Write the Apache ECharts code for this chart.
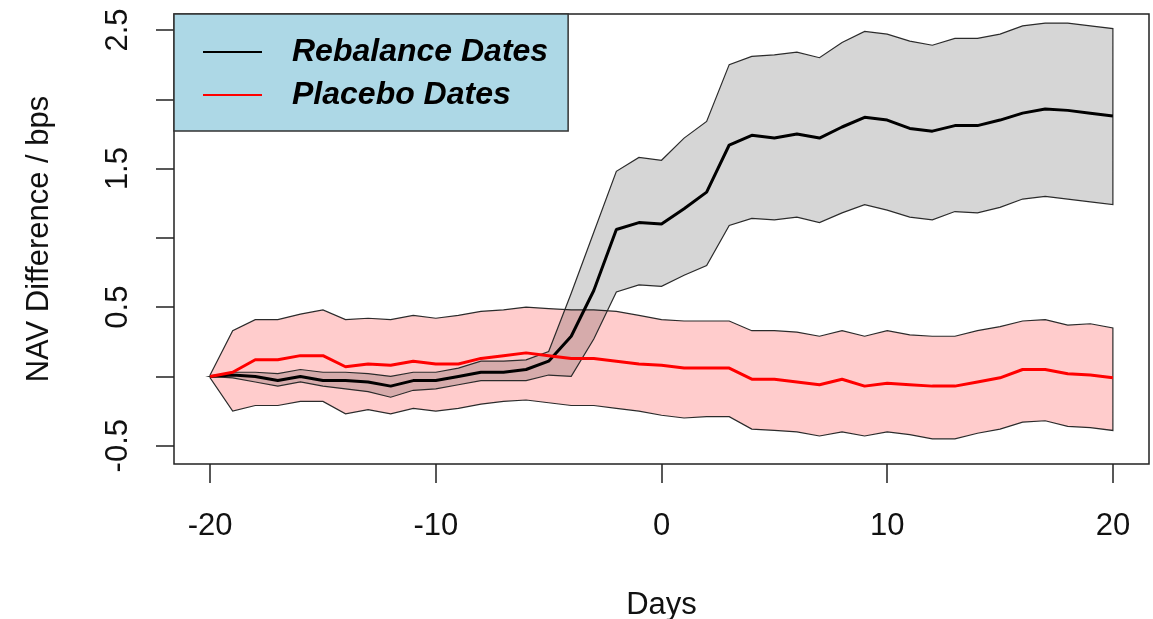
<!DOCTYPE html>
<html>
<head>
<meta charset="utf-8">
<script src="https://cdn.jsdelivr.net/npm/echarts@6/dist/echarts.min.js"></script>
<style>
html,body{margin:0;padding:0;background:#fff;}
#chart{width:1153px;height:619px;}
</style>
</head>
<body>
<div id="chart"></div>
<script>
var days = [-20,-19,-18,-17,-16,-15,-14,-13,-12,-11,-10,-9,-8,-7,-6,-5,-4,-3,-2,-1,0,1,2,3,4,5,6,7,8,9,10,11,12,13,14,15,16,17,18,19,20];

var rebMean = [0,0.01,0.00,-0.03,0.00,-0.03,-0.03,-0.04,-0.07,-0.03,-0.03,0.00,0.03,0.03,0.05,0.11,0.29,0.62,1.06,1.11,1.10,1.21,1.33,1.67,1.74,1.72,1.75,1.72,1.80,1.87,1.85,1.79,1.77,1.81,1.81,1.85,1.90,1.93,1.92,1.90,1.88];
var rebUpper = [0,0.03,0.03,0.02,0.05,0.03,0.03,0.02,0.00,0.03,0.03,0.06,0.11,0.11,0.12,0.18,0.60,1.04,1.48,1.58,1.56,1.72,1.84,2.25,2.31,2.32,2.34,2.30,2.41,2.49,2.47,2.42,2.39,2.44,2.44,2.47,2.53,2.55,2.55,2.53,2.51];
var rebLower = [0,-0.01,-0.04,-0.07,-0.04,-0.07,-0.09,-0.11,-0.15,-0.10,-0.09,-0.06,-0.03,-0.03,-0.03,0.01,0.00,0.27,0.61,0.66,0.65,0.73,0.80,1.09,1.14,1.13,1.15,1.11,1.18,1.24,1.20,1.15,1.13,1.19,1.18,1.22,1.28,1.30,1.28,1.26,1.24];

var plMean = [0,0.03,0.12,0.12,0.15,0.15,0.07,0.09,0.08,0.11,0.09,0.09,0.13,0.15,0.17,0.15,0.13,0.13,0.11,0.09,0.08,0.06,0.06,0.06,-0.02,-0.02,-0.04,-0.06,-0.02,-0.07,-0.05,-0.06,-0.07,-0.07,-0.04,-0.01,0.05,0.05,0.02,0.01,-0.01];
var plUpper = [0.01,0.33,0.41,0.41,0.45,0.48,0.41,0.42,0.41,0.44,0.42,0.44,0.47,0.48,0.50,0.49,0.48,0.48,0.47,0.44,0.41,0.40,0.40,0.40,0.33,0.33,0.32,0.29,0.33,0.29,0.33,0.30,0.29,0.29,0.33,0.36,0.40,0.41,0.37,0.38,0.35];
var plLower = [-0.01,-0.25,-0.21,-0.21,-0.18,-0.18,-0.27,-0.24,-0.27,-0.23,-0.25,-0.23,-0.20,-0.18,-0.17,-0.19,-0.21,-0.21,-0.23,-0.25,-0.28,-0.30,-0.29,-0.29,-0.38,-0.39,-0.40,-0.43,-0.40,-0.43,-0.40,-0.42,-0.45,-0.45,-0.41,-0.38,-0.33,-0.32,-0.36,-0.37,-0.39];

var xTicks = [-20,-10,0,10,20];
var yTicks = [-0.5,0,0.5,1,1.5,2,2.5];
var yLabels = [-0.5,0.5,1.5,2.5];

var seriesNames = ['Rebalance Dates','Placebo Dates'];

function pairs(xs, ys){ return xs.map(function(x,i){ return [x, ys[i]]; }); }

var FONT = 'Liberation Sans, Arial, sans-serif';

// band polygon (upper edge forward, lower edge backward), positioned via the axes
function band(id, lo, up, fill){
  return {
    type:'custom', name:id, silent:true, z:2,
    data: days.map(function(d,i){ return [d, lo[i], up[i]]; }),
    encode:{x:0, y:[1,2]},
    renderItem:function(params, api){
      if (params.dataIndex !== 0) return null;
      var pts = [];
      for (var i=0;i<days.length;i++) pts.push(api.coord([days[i], up[i]]));
      for (var j=days.length-1;j>=0;j--) pts.push(api.coord([days[j], lo[j]]));
      return {
        type:'polygon',
        shape:{points:pts},
        style:{fill:fill, stroke:'#2b2b2b', lineWidth:1.2}
      };
    }
  };
}

var series = [
  band('pl', plLower, plUpper, 'rgba(255,0,0,0.2)'),
  band('reb', rebLower, rebUpper, 'rgba(0,0,0,0.16)'),
  {type:'line', name:seriesNames[0], data:pairs(days, rebMean), symbol:'none', color:'#000',
   lineStyle:{color:'#000', width:3}, z:3},
  {type:'line', name:seriesNames[1], data:pairs(days, plMean), symbol:'none', color:'#ff0000',
   lineStyle:{color:'#ff0000', width:3}, z:4}
];

var chart = echarts.init(document.getElementById('chart'), null, {renderer:'canvas'});
chart.setOption({
  animation:false,
  backgroundColor:'#ffffff',
  grid:{left:174, right:4, top:14, bottom:155, show:true, borderColor:'#222', borderWidth:1.5,
        backgroundColor:'transparent', outerBoundsMode:'none', containLabel:false},
  legend:{
    show:true, orient:'vertical', left:174, top:14, z:10,
    data:[{name:seriesNames[0], icon:'rect'},{name:seriesNames[1], icon:'rect'}],
    itemWidth:59, itemHeight:2, itemGap:11,
    padding:[22,20,20,29],
    backgroundColor:'#add8e6', borderColor:'#333', borderWidth:1.5,
    selectedMode:false,
    textStyle:{fontFamily:FONT, fontSize:32, fontWeight:'bold', fontStyle:'italic', color:'#000', padding:[14,0,0,25]}
  },
  xAxis:{
    type:'value', min:-21.6, max:21.6,
    name:'Days', nameLocation:'middle', nameGap:126,
    nameTextStyle:{fontFamily:FONT, fontSize:31, color:'#111'},
    axisLine:{show:false, onZero:false},
    axisTick:{show:true, length:19, lineStyle:{color:'#222', width:1.5}, customValues:xTicks},
    axisLabel:{show:true, margin:47, fontFamily:FONT, fontSize:31, color:'#111', customValues:xTicks},
    splitLine:{show:false}
  },
  yAxis:{
    type:'value', min:-0.632, max:2.6155,
    name:'NAV Difference / bps', nameLocation:'middle', nameGap:119,
    nameTextStyle:{fontFamily:FONT, fontSize:31, color:'#111'},
    axisLine:{show:false, onZero:false},
    axisTick:{show:true, length:18, lineStyle:{color:'#222', width:1.5}, customValues:yTicks},
    axisLabel:{show:true, rotate:90, margin:40, fontFamily:FONT, fontSize:31, color:'#111', customValues:yLabels},
    splitLine:{show:false}
  },
  series:series
});
</script>
</body>
</html>
